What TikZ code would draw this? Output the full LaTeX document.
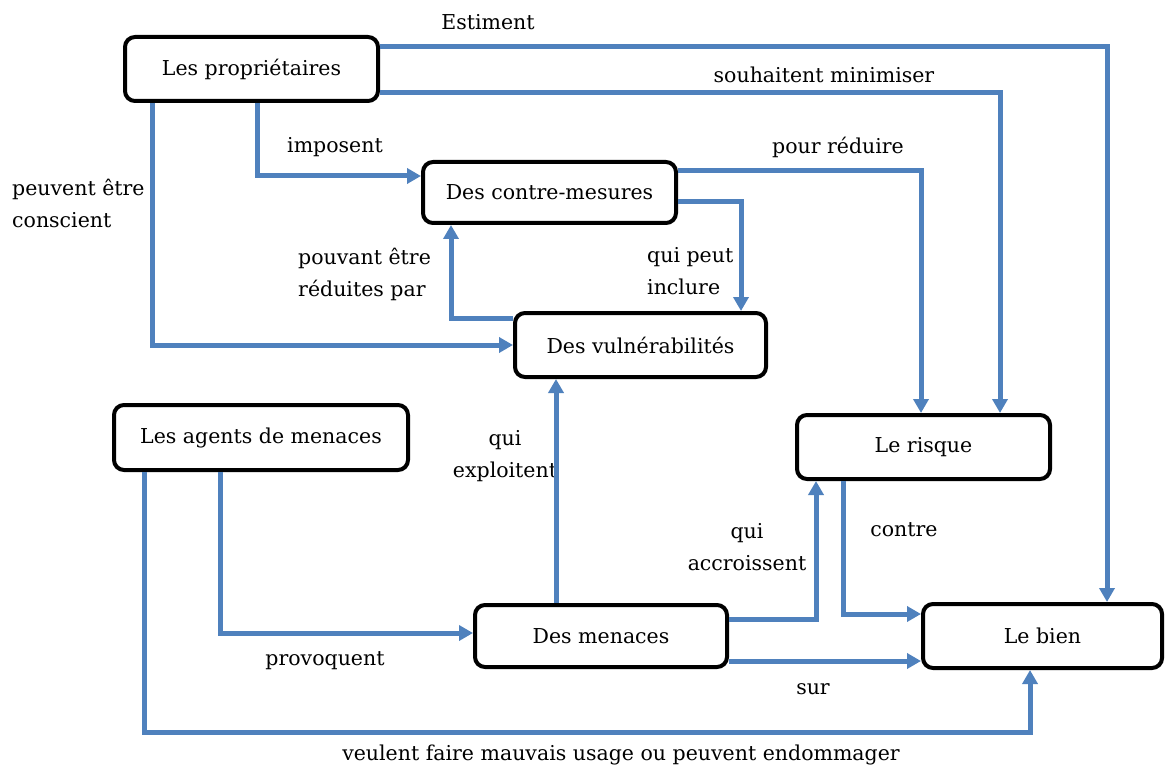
\documentclass[tikz,border=0pt]{standalone}
\usepackage{fontspec}
\setmainfont{DejaVu Serif}
\usetikzlibrary{arrows.meta}
\definecolor{linkblue}{HTML}{4F81BD}
\begin{document}
\begin{tikzpicture}[x=1pt,y=-1pt,
  txt/.style={font=\fontsize{20.5}{32}\selectfont, inner sep=0pt},
  entity/.style={txt, draw=black, line width=4pt, rounded corners=10pt, fill=white},
  link/.style={draw=linkblue, line width=5pt,
    -{Triangle[length=14pt,width=15pt]}},
  lbl/.style={txt, align=center}]
\useasboundingbox[fill=white] (0,0) rectangle (1166,767);

% entities
\node[entity, minimum width=253pt, minimum height=64pt] (prop) at (251.5,69) {Les propriétaires};
\node[entity, minimum width=253pt, minimum height=61pt] (cm)   at (549.5,192.5) {Des contre-mesures};
\node[entity, minimum width=251pt, minimum height=64pt] (vul)  at (640.5,345) {Des vulnérabilités};
\node[entity, minimum width=294pt, minimum height=65pt] (agt)  at (261,437.5) {Les agents de menaces};
\node[entity, minimum width=253pt, minimum height=64pt] (risk) at (923.5,447) {Le risque};
\node[entity, minimum width=252pt, minimum height=62pt] (men)  at (601,636) {Des menaces};
\node[entity, minimum width=239pt, minimum height=64pt] (bien) at (1042.5,636) {Le bien};

% connector labels
\node[lbl] (lEst)  at (488,22)  {Estiment};
\node[lbl] (lSouh) at (824,75)  {souhaitent minimiser};
\node[lbl] (lImp)  at (335,147) {imposent};
\node[lbl, align=left, anchor=west] (lConsc) at (12,203) {peuvent être\\conscient};
\node[lbl] (lPour) at (838,147) {pour réduire};
\node[lbl, align=left, anchor=west] (lIncl) at (647,271) {qui peut\\inclure};
\node[lbl, align=left, anchor=west] (lRed) at (298,274) {pouvant être\\réduites par};
\node[lbl] (lExpl) at (505,456) {qui\\exploitent};
\node[lbl] (lProv) at (325,661) {provoquent};
\node[lbl] (lVeul) at (621,755) {veulent faire mauvais usage ou peuvent endommager};
\node[lbl] (lAccr) at (747,547) {qui\\accroissent};
\node[lbl] (lCont) at (904,530) {contre};
\node[lbl] (lSur)  at (813,689) {sur};

% connectors
\draw[link] ([yshift=22pt]prop.east) -| ([xshift=64.5pt]bien.north);
\draw[link] ([yshift=-24pt]prop.east) -| ([xshift=76.5pt]risk.north);
\draw[link] ([xshift=5.5pt]prop.south) |- ([yshift=16.5pt]cm.west);
\draw[link] ([xshift=-99.5pt]prop.south) |- (vul.west);
\draw[link] ([yshift=21.5pt]cm.east) -| ([xshift=-2.5pt]risk.north);
\draw[link] ([yshift=-9.5pt]cm.east) -| ([xshift=100.5pt]vul.north);
\draw[link] ([yshift=27pt]vul.west) -| ([xshift=-98.5pt]cm.south);
\draw[link] ([xshift=-45pt]men.north) -- ([xshift=-84.5pt]vul.south);
\draw[link] ([xshift=-41pt]agt.south) |- ([yshift=3pt]men.west);
\draw[link] ([xshift=-117pt]agt.south) -- ++(0,260) -| ([xshift=-12.5pt]bien.south);
\draw[link] ([yshift=17pt]men.east) -| ([xshift=-107.5pt]risk.south);
\draw[link] ([xshift=-80.5pt]risk.south) |- ([yshift=22pt]bien.west);
\draw[link] ([yshift=-25pt]men.east) -- ([yshift=-25pt]bien.west);
\end{tikzpicture}
\end{document}
